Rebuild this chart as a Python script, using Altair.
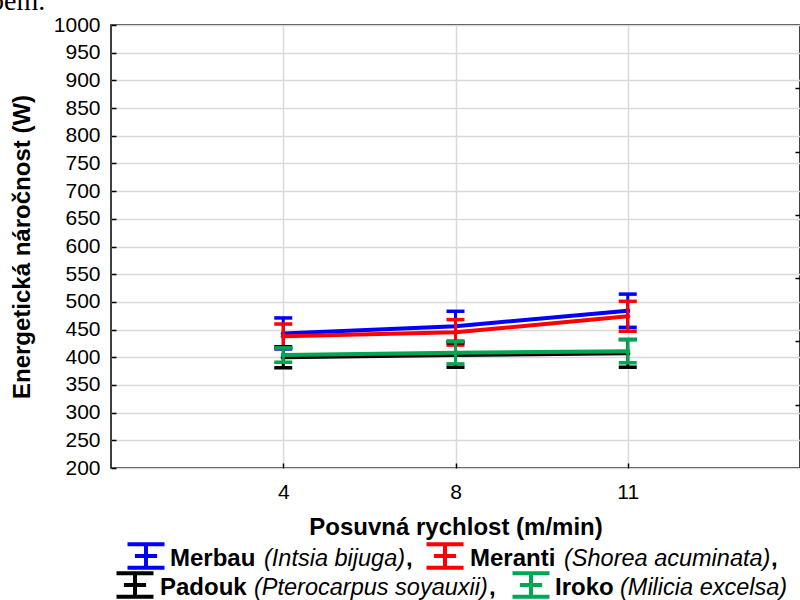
import altair as alt
import pandas as pd

# ---------------- data ----------------
speeds = ["4", "8", "11"]
species = ["Merbau", "Meranti", "Padouk", "Iroko"]
latin = ["Intsia bijuga", "Shorea acuminata", "Pterocarpus soyauxii", "Milicia excelsa"]
colors = ["#0000FF", "#FF0000", "#000000", "#00A651"]

merbau_mean = [443, 456, 484]
merbau_err = [28, 27, 30]
meranti_mean = [438, 445, 474]
meranti_err = [22, 23, 27]
padouk_mean = [400, 404, 407]
padouk_err = [19, 22, 25]
iroko_mean = [404, 408, 411]
iroko_err = [13, 20, 21]

means = [merbau_mean, meranti_mean, padouk_mean, iroko_mean]
errs = [merbau_err, meranti_err, padouk_err, iroko_err]

y_ticks = list(range(200, 1001, 50))
y_domain = [200, 1000]

x_title = "Posuvná rychlost (m/min)"
y_title = "Energetická náročnost (W)"

# ---------------- layout ----------------
W, H = 689, 443
PAD_L, PAD_T = 111, 25
FONT = "Liberation Sans"

xscale = alt.Scale(type="point", domain=speeds, padding=1)
yscale = alt.Scale(domain=y_domain, nice=False, zero=False)

x_axis = alt.Axis(
    title=x_title, titleFontSize=24, titleFontWeight="bold", titleColor="black",
    titleFont=FONT, titlePadding=13,
    labelFontSize=21, labelColor="black", labelFont=FONT, labelPadding=13,
    labelAngle=0, offset=-5, tickSize=5, tickColor="black", tickWidth=1.5,
    domain=False, grid=True, gridColor="#D9D9D9", gridWidth=1.5,
)
y_axis = alt.Axis(
    title=y_title, titleFontSize=24, titleFontWeight="bold", titleColor="black",
    titleFont=FONT, titlePadding=19, format="d",
    values=y_ticks, labelFontSize=21, labelColor="black", labelFont=FONT,
    labelPadding=11, offset=-5, tickSize=5, tickColor="black", tickWidth=1.5,
    domain=False, grid=True, gridColor="#D9D9D9", gridWidth=1.5,
)


def X():
    return alt.X("speed:O", scale=xscale, sort=speeds, axis=x_axis)


def Y(field):
    return alt.Y(f"{field}:Q", scale=yscale, axis=y_axis)


layers = []
for name, color, m, e in zip(species, colors, means, errs):
    df = pd.DataFrame({
        "speed": speeds,
        "mean": m,
        "lo": [a - b for a, b in zip(m, e)],
        "hi": [a + b for a, b in zip(m, e)],
    })
    base = alt.Chart(df)
    layers.append(base.mark_line(color=color, strokeWidth=4).encode(x=X(), y=Y("mean")))
    layers.append(base.mark_rule(color=color, strokeWidth=3).encode(x=X(), y=Y("lo"), y2="hi:Q"))
    layers.append(base.mark_tick(color=color, size=18, thickness=3.5, opacity=1).encode(x=X(), y=Y("lo")))
    layers.append(base.mark_tick(color=color, size=18, thickness=3.5, opacity=1).encode(x=X(), y=Y("hi")))
    layers.append(base.mark_point(color=color, filled=True, size=25, opacity=1).encode(x=X(), y=Y("mean")))

main = alt.layer(*layers)

# right-hand secondary axis (7 equal divisions, inward ticks only)
right_vals = [y_domain[0] + (y_domain[1] - y_domain[0]) * k / 7 for k in range(1, 7)]
right_df = pd.DataFrame({"mean": merbau_mean})
right = alt.Chart(right_df).mark_point(opacity=0).encode(
    x=alt.value(0),
    y=alt.Y("mean:Q", scale=yscale, axis=alt.Axis(
        orient="right", values=right_vals, labels=False, title=None, grid=False,
        domain=False, offset=-5, tickSize=5, tickColor="black", tickWidth=1.5)),
)

# ---------------- legend (manual, mixed bold / italic text) ----------------
sym_path = "M-1,-0.63H1M-0.6,0H0.6M-1,0.63H1M0,-0.63V0.63"
legend_rows = [
    # (symbol x, name x, latin x, comma x, baseline y, symbol y)
    (35, 59, 153, 295, 541, 531),
    (334, 359, 453, 660, 541, 531),
    (24, 49, 143, 378, 570, 560),
    (420, 444, 509, None, 570, 560),
]
text_layers = []
one = pd.DataFrame({"k": [0]})
for i, (sx, nx, lx, cx, by, sy) in enumerate(legend_rows):
    text_layers.append(alt.Chart(one).mark_point(
        shape=sym_path, size=1369, filled=False, stroke=colors[i], strokeWidth=4, opacity=1
    ).encode(x=alt.value(sx), y=alt.value(sy)))
    text_layers.append(alt.Chart(one).mark_text(
        text=species[i], font=FONT, fontSize=24, fontWeight="bold", align="left",
        baseline="alphabetic", color="black"
    ).encode(x=alt.value(nx), y=alt.value(by)))
    text_layers.append(alt.Chart(one).mark_text(
        text="(" + latin[i] + ")", font=FONT, fontSize=23.5, fontStyle="italic", align="left",
        baseline="alphabetic", color="black"
    ).encode(x=alt.value(lx), y=alt.value(by)))
    if cx is not None:
        text_layers.append(alt.Chart(one).mark_text(
            text=",", font=FONT, fontSize=24, fontWeight="bold", align="left",
            baseline="alphabetic", color="black"
        ).encode(x=alt.value(cx), y=alt.value(by)))

# fragment of the preceding document line
text_layers.append(alt.Chart(one).mark_text(
    text="bem.", font="Liberation Serif", fontSize=28, align="left",
    baseline="alphabetic", color="black"
).encode(x=alt.value(-121), y=alt.value(-15)))

chart = alt.layer(main, right, *text_layers).resolve_axis(y="independent").properties(
    width=W, height=H,
    autosize=alt.AutoSizeParams(type="none"),
    padding={"left": PAD_L, "top": PAD_T, "right": 0, "bottom": 600 - PAD_T - H},
    background="white",
).configure_view(stroke="black", strokeWidth=1.5)

chart.save("out.html", embed_options={"renderer": "svg", "actions": False})
